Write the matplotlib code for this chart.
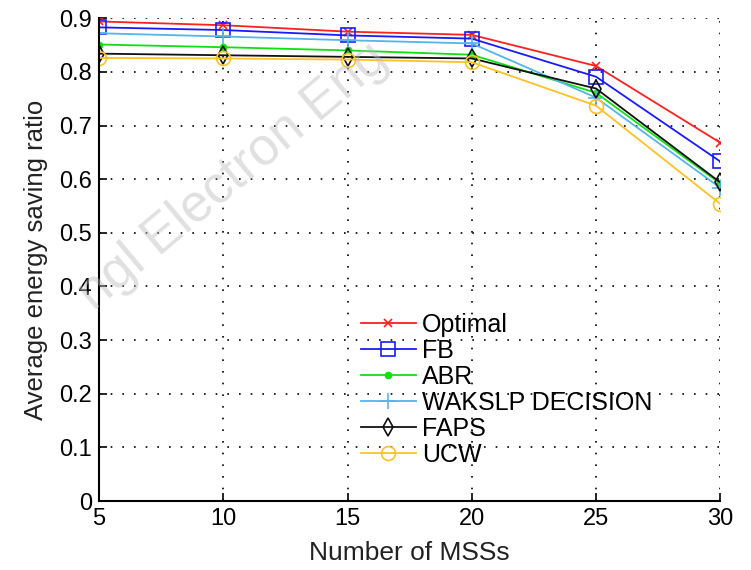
import numpy as np
import matplotlib.pyplot as plt

plt.rcParams['font.family'] = ['Liberation Sans', 'DejaVu Sans']

# number of MSSs
mss = [5, 10, 15, 20, 25, 30]

# average energy saving ratio
optimal = [0.894, 0.887, 0.875, 0.869, 0.811, 0.668]
fb = [0.883, 0.878, 0.868, 0.862, 0.791, 0.633]
abr = [0.851, 0.846, 0.840, 0.832, 0.761, 0.592]
wakslp = [0.872, 0.866, 0.859, 0.853, 0.752, 0.584]
faps = [0.834, 0.831, 0.828, 0.825, 0.769, 0.594]
ucw = [0.826, 0.825, 0.823, 0.818, 0.737, 0.554]

y_ticks = [0, 0.1, 0.2, 0.3, 0.4, 0.5, 0.6, 0.7, 0.8, 0.9]
y_labels = ['0', '0.1', '0.2', '0.3', '0.4', '0.5', '0.6', '0.7', '0.8', '0.9']

fig = plt.figure(figsize=(7.51, 5.70), dpi=100)
ax = fig.add_axes([0.132, 0.121, 0.827, 0.847])

ax.plot(mss, optimal, color='#ff2020', marker='x', ms=6, mew=1.2, lw=1.3, label='Optimal')
ax.plot(mss, fb, color='#1a1aff', marker='s', ms=10, mfc='none', mew=1.2, lw=1.3, label='FB')
ax.plot(mss, abr, color='#10e010', marker='.', ms=9, lw=1.3, label='ABR')
ax.plot(mss, wakslp, color='#55b4ea', marker='+', ms=12, mew=1.2, lw=1.3, label='WAKSLP DECISION')
ax.plot(mss, faps, color='#111111', marker='d', ms=9, mfc='none', mew=1.2, lw=1.3, label='FAPS')
ax.plot(mss, ucw, color='#ffc125', marker='o', ms=10, mfc='none', mew=1.2, lw=1.3, label='UCW')

ax.set_xlim(5, 30)
ax.set_ylim(0, 0.9)
ax.set_xticks(mss)
ax.set_yticks(y_ticks)
ax.set_yticklabels(y_labels)
ax.tick_params(direction='in', labelsize=17, length=6, width=1.2, pad=5)
ax.grid(True, color='black', linestyle=(0, (1, 6)), linewidth=1.2)
for side in ['top', 'right']:
    ax.spines[side].set_visible(False)
for side in ['left', 'bottom']:
    ax.spines[side].set_linewidth(1.5)

ax.set_xlabel('Number of MSSs', fontsize=19, color='#222222', labelpad=8)
ax.set_ylabel('Average energy saving ratio', fontsize=18.5, color='#222222', labelpad=8)

ax.legend(loc='upper left', bbox_to_anchor=(0.405, 0.41), frameon=False, fontsize=18,
          handlelength=2.2, handletextpad=0.25, labelspacing=0.08, borderaxespad=0)

# faint watermark of the source scan
fig.text(0.31, 0.69, 'ngl Electron Eng', fontsize=38, color='#bbbbbb', alpha=0.45,
         rotation=40, ha='center', va='center', zorder=0)

fig.savefig('out.png', dpi=100)
